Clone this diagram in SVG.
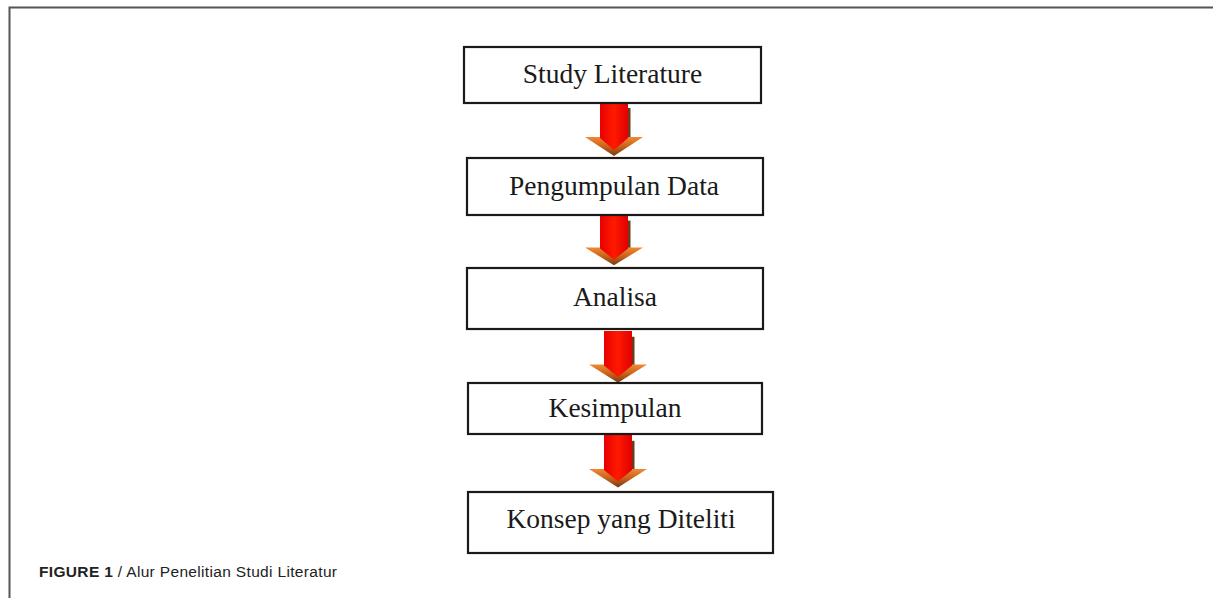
<svg xmlns="http://www.w3.org/2000/svg" width="1213" height="598" viewBox="0 0 1213 598">
  <defs>
    <style>
      .box { fill: #ffffff; stroke: #1a1a1a; stroke-width: 2.2; }
      .lbl { font-family: "Liberation Serif", "Times New Roman", serif; font-size: 27.5px; fill: #1a1a1a; text-anchor: middle; }
      .cap { font-family: "Liberation Sans", Arial, sans-serif; font-size: 15.5px; fill: #222; }
    </style>
    <linearGradient id="shaftG" x1="0" y1="0" x2="1" y2="0">
      <stop offset="0" stop-color="#e80000"/>
      <stop offset="0.5" stop-color="#ff1a00"/>
      <stop offset="1" stop-color="#e00000"/>
    </linearGradient>
    <linearGradient id="headG" x1="0" y1="0" x2="0" y2="1">
      <stop offset="0" stop-color="#f08a30"/>
      <stop offset="0.5" stop-color="#c8621c"/>
      <stop offset="1" stop-color="#7a3a10"/>
    </linearGradient>
    <g id="arrow">
      <rect x="14" y="6" width="2.5" height="30" fill="#6b3a1a"/>
      <polygon points="-29,35 29,35 0,54" fill="url(#headG)"/>
      <polygon points="-14,0 14,0 14,36 0,48 -14,36" fill="url(#shaftG)"/>
    </g>
  </defs>
  <rect width="1213" height="598" fill="#ffffff"/>
  <path d="M9.5,598 V7.5 H1213" fill="none" stroke="#555555" stroke-width="2"/>

  <g id="connectors">
    <use href="#arrow" transform="translate(614,102)"/>
    <use href="#arrow" transform="translate(614,215) scale(1,0.93)"/>
    <use href="#arrow" transform="translate(618,331) scale(1,0.96)"/>
    <use href="#arrow" transform="translate(618,435) scale(1,0.97)"/>
  </g>

  <g id="node-study">
    <rect class="box" x="464" y="47" width="297" height="56"/>
    <text class="lbl" x="612.5" y="83">Study Literature</text>
  </g>
  <g id="node-pengumpulan">
    <rect class="box" x="467" y="158" width="296" height="57"/>
    <text class="lbl" x="614" y="195">Pengumpulan Data</text>
  </g>
  <g id="node-analisa">
    <rect class="box" x="467" y="268" width="296" height="61"/>
    <text class="lbl" x="615" y="306">Analisa</text>
  </g>
  <g id="node-kesimpulan">
    <rect class="box" x="468" y="383" width="294" height="51"/>
    <text class="lbl" x="615" y="417">Kesimpulan</text>
  </g>
  <g id="node-konsep">
    <rect class="box" x="468" y="492" width="305" height="61"/>
    <text class="lbl" x="621" y="528">Konsep yang Diteliti</text>
  </g>

  <text class="cap" x="39" y="577" textLength="298" lengthAdjust="spacing"><tspan font-weight="bold">FIGURE 1</tspan> / Alur Penelitian Studi Literatur</text>
</svg>
